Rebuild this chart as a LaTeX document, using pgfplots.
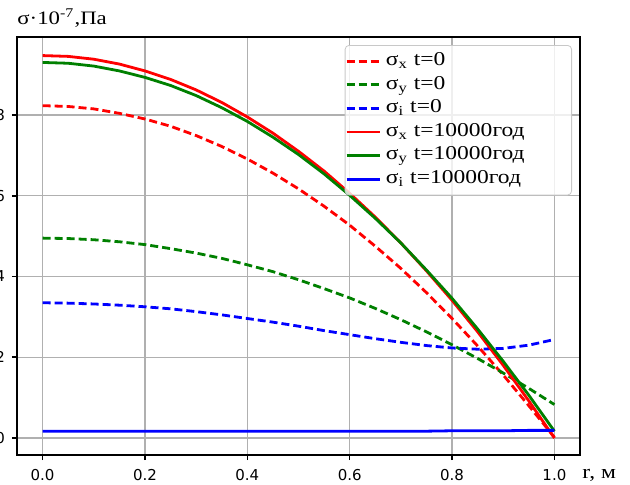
\documentclass[border=0pt]{standalone}
\usepackage{pgfplots}
\pgfplotsset{compat=1.18}
\usepackage{fontspec}
\setmainfont{Liberation Serif}
\newfontfamily\dejavu{DejaVu Sans}
\usepackage{graphicx}
\newcommand\wide[1]{\scalebox{1.2}[1]{#1}}
\definecolor{gridc}{RGB}{176,176,176}
\definecolor{mplgreen}{rgb}{0,0.5,0}

\pgfplotstableread{
r sxa sya sia sxb syb sib
0.00 8.23 4.95 3.35 9.47 9.30 0.17
0.05 8.21 4.94 3.34 9.45 9.28 0.17
0.10 8.15 4.91 3.32 9.38 9.21 0.17
0.15 8.04 4.86 3.29 9.26 9.09 0.17
0.20 7.90 4.79 3.25 9.09 8.93 0.17
0.25 7.72 4.69 3.20 8.88 8.73 0.17
0.30 7.49 4.58 3.13 8.62 8.48 0.17
0.35 7.22 4.45 3.05 8.31 8.18 0.17
0.40 6.91 4.29 2.96 7.95 7.84 0.17
0.45 6.56 4.12 2.87 7.55 7.45 0.17
0.50 6.17 3.92 2.77 7.10 7.02 0.17
0.55 5.74 3.70 2.66 6.61 6.54 0.17
0.60 5.27 3.47 2.56 6.06 6.01 0.17
0.65 4.75 3.21 2.46 5.47 5.44 0.17
0.70 4.20 2.93 2.37 4.83 4.83 0.17
0.75 3.60 2.63 2.29 4.14 4.16 0.17
0.80 2.96 2.31 2.23 3.41 3.46 0.18
0.85 2.28 1.97 2.20 2.63 2.70 0.18
0.90 1.56 1.61 2.22 1.80 1.90 0.18
0.95 0.80 1.23 2.30 0.92 1.06 0.19
1.00 0.02 0.83 2.44 0.00 0.17 0.19
}\data

\begin{document}
\begin{tikzpicture}
\begin{axis}[
  scale only axis, width=281.5pt, height=209pt,
  xmin=-0.05, xmax=1.05, ymin=-0.42, ymax=9.93,
  clip=false,
  xtick={0,0.2,0.4,0.6,0.8,1.0},
  xticklabels={0.0,0.2,0.4,0.6,0.8,1.0},
  ytick={0,2,4,6,8},
  yticklabels={0,2,4,6,8},
  grid=major,
  major grid style={draw=gridc, line width=0.7pt},
  axis line style={line width=0.8pt},
  tick align=outside, tick pos=left,
  major tick length=2.5pt,
  tick style={black, line width=0.8pt},
  /pgf/number format/assume math mode=true,
  tick label style={font=\dejavu\fontsize{7.5}{9}\selectfont},
  xticklabel style={inner ysep=0.5pt, yshift=-4pt},
  legend cell align=left,
  legend image code/.code={\draw[#1, line width=1.4pt] (0pt,0pt) -- (16.5pt,0pt);},
  legend style={at={(1,1)}, anchor=north east, xshift=-4pt, yshift=-4pt,
    draw=gridc!70, rounded corners=2pt, fill=white, fill opacity=0.8, text opacity=1,
    draw opacity=1,
    font=\fontsize{9.8}{11}\selectfont, inner xsep=0pt, inner ysep=2pt, row sep=0pt,
    nodes={inner xsep=2.5pt, inner ysep=1.5pt, text height=6.5pt, text depth=2.3pt}},
  every axis plot/.append style={line width=1.4pt},
]
\addplot[red, dash pattern=on 4pt off 2pt] table[x=r,y=sxa]{\data};
\addlegendentry{\wide{σ\textsubscript{x} t=0}}
\addplot[mplgreen, dash pattern=on 4pt off 2pt] table[x=r,y=sya]{\data};
\addlegendentry{\wide{σ\textsubscript{y} t=0}}
\addplot[blue, dash pattern=on 4pt off 2pt] table[x=r,y=sia]{\data};
\addlegendentry{\wide{σ\textsubscript{i} t=0}}
\addplot[red] table[x=r,y=sxb]{\data};
\addlegendentry{\wide{σ\textsubscript{x} t=10000год}}
\addplot[mplgreen] table[x=r,y=syb]{\data};
\addlegendentry{\wide{σ\textsubscript{y} t=10000год}\rule{21pt}{0pt}}
\addplot[blue] table[x=r,y=sib]{\data};
\addlegendentry{\wide{σ\textsubscript{i} t=10000год}}
\node[anchor=base west, inner sep=0pt, font=\fontsize{9.5}{11}\selectfont] at ([yshift=6pt]rel axis cs:0,1) {\wide{σ·10\textsuperscript{-7},Па}};
\node[anchor=base west, inner sep=0pt, font=\fontsize{9.8}{11}\selectfont] at ([shift={(1pt,-11.5pt)}]rel axis cs:1,0) {\wide{r, м}};
\coordinate (sw) at (rel axis cs:0,0);
\coordinate (ne) at (rel axis cs:1,1);
\end{axis}
\pgfresetboundingbox
\path[use as bounding box] ([shift={(-8.5pt,-14.5pt)}]sw) rectangle ([shift={(25pt,18.5pt)}]ne);
\end{tikzpicture}
\end{document}
